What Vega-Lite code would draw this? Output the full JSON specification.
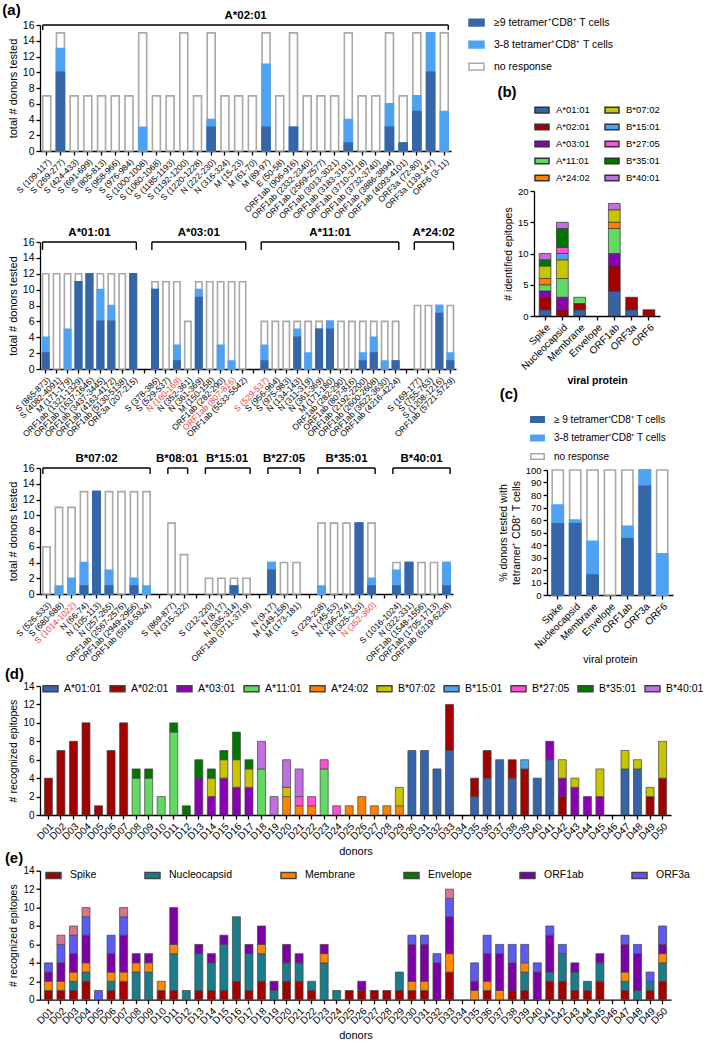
{
  "$schema": "https://vega.github.io/schema/vega-lite/v6.json",
  "padding": {"left": 2, "top": 3, "right": 0, "bottom": 0},
  "background": "white",
  "config": {
    "font": "Liberation Sans",
    "view": {"stroke": null},
    "axis": {"domainColor": "#000", "domainWidth": 1.3, "tickColor": "#000", "tickWidth": 1.3, "tickSize": 4, "labelColor": "#000", "titleColor": "#000", "grid": false, "titleFontWeight": "normal", "labelFontSize": 10, "titleFontSize": 10.5, "labelPadding": 2, "titlePadding": 4, "labelOverlap": false},
    "legend": {"labelColor": "#000", "padding": 0},
    "title": {"fontWeight": "bold", "fontSize": 15, "anchor": "start", "frame": "bounds", "offset": 0, "color": "#000"}
  },
  "datasets": {
    "a1": [
      {"id": "S (109-117)", "total": 7, "any": 0, "strong": 0},
      {"id": "S (269-277)", "total": 15, "any": 13, "strong": 10},
      {"id": "S (424-433)", "total": 7, "any": 0, "strong": 0},
      {"id": "S (691-699)", "total": 7, "any": 0, "strong": 0},
      {"id": "S (805-813)", "total": 7, "any": 0, "strong": 0},
      {"id": "S (958-966)", "total": 7, "any": 0, "strong": 0},
      {"id": "S (976-984)", "total": 7, "any": 0, "strong": 0},
      {"id": "S (1000-1008)", "total": 15, "any": 3, "strong": 0},
      {"id": "S (1060-1068)", "total": 7, "any": 0, "strong": 0},
      {"id": "S (1185-1193)", "total": 7, "any": 0, "strong": 0},
      {"id": "S (1192-1200)", "total": 15, "any": 0, "strong": 0},
      {"id": "S (1220-1228)", "total": 7, "any": 0, "strong": 0},
      {"id": "N (222-230)", "total": 15, "any": 4, "strong": 3},
      {"id": "N (316-324)", "total": 7, "any": 0, "strong": 0},
      {"id": "M (15-23)", "total": 7, "any": 0, "strong": 0},
      {"id": "M (61-70)", "total": 7, "any": 0, "strong": 0},
      {"id": "M (89-97)", "total": 15, "any": 11, "strong": 3},
      {"id": "E (50-58)", "total": 7, "any": 0, "strong": 0},
      {"id": "ORF1ab (906-916)", "total": 15, "any": 3, "strong": 3},
      {"id": "ORF1ab (2332-2340)", "total": 7, "any": 0, "strong": 0},
      {"id": "ORF1ab (2569-2577)", "total": 7, "any": 0, "strong": 0},
      {"id": "ORF1ab (3013-3021)", "total": 7, "any": 0, "strong": 0},
      {"id": "ORF1ab (3183-3191)", "total": 15, "any": 4, "strong": 1},
      {"id": "ORF1ab (3710-3718)", "total": 7, "any": 0, "strong": 0},
      {"id": "ORF1ab (3732-3740)", "total": 7, "any": 0, "strong": 0},
      {"id": "ORF1ab (3886-3894)", "total": 15, "any": 6, "strong": 3},
      {"id": "ORF1ab (4093-4101)", "total": 7, "any": 1, "strong": 1},
      {"id": "ORF3a (72-80)", "total": 15, "any": 7, "strong": 5},
      {"id": "ORF3a (139-147)", "total": 15, "any": 15, "strong": 10},
      {"id": "ORF6 (3-11)", "total": 15, "any": 5, "strong": 0}
    ],
    "a1g": [
      {"g": "A*02:01", "first": "S (109-117)", "last": "ORF6 (3-11)", "mid": "M (15-23)", "n": 30}
    ],
    "a2": [
      {"id": "A*01:01|S (865-873)", "total": 12, "any": 4, "strong": 2},
      {"id": "A*01:01|S (4082-4091)", "total": 12, "any": 0, "strong": 0},
      {"id": "A*01:01|M (171-179)", "total": 12, "any": 5, "strong": 0},
      {"id": "A*01:01|ORF1ab (1321-1329)", "total": 12, "any": 11, "strong": 11},
      {"id": "A*01:01|ORF1ab (1637-1646)", "total": 12, "any": 12, "strong": 12},
      {"id": "A*01:01|ORF1ab (3437-3445)", "total": 12, "any": 10, "strong": 6},
      {"id": "A*01:01|ORF1ab (4163-4172)", "total": 12, "any": 8, "strong": 6},
      {"id": "A*01:01|ORF1ab (5130-5138)", "total": 12, "any": 0, "strong": 0},
      {"id": "A*01:01|ORF3a (207-215)", "total": 12, "any": 12, "strong": 12},
      {"id": "A*03:01|S (378-386)", "total": 11, "any": 10, "strong": 10},
      {"id": "A*03:01|S (529-537)", "total": 11, "any": 0, "strong": 0},
      {"id": "A*03:01|N (160-169)", "total": 11, "any": 3, "strong": 1},
      {"id": "A*03:01|N (352-361)", "total": 6, "any": 0, "strong": 0},
      {"id": "A*03:01|N (361-369)", "total": 11, "any": 10, "strong": 9},
      {"id": "A*03:01|M (150-158)", "total": 11, "any": 0, "strong": 0},
      {"id": "A*03:01|ORF1ab (282-290)", "total": 11, "any": 3, "strong": 0},
      {"id": "A*03:01|ORF1ab (807-816)", "total": 11, "any": 1, "strong": 0},
      {"id": "A*03:01|ORF1ab (5533-5542)", "total": 11, "any": 0, "strong": 0},
      {"id": "A*11:01|S (529-537)", "total": 6, "any": 3, "strong": 1},
      {"id": "A*11:01|S (956-964)", "total": 6, "any": 0, "strong": 0},
      {"id": "A*11:01|S (975-983)", "total": 6, "any": 0, "strong": 0},
      {"id": "A*11:01|N (134-143)", "total": 6, "any": 5, "strong": 4},
      {"id": "A*11:01|N (311-319)", "total": 6, "any": 2, "strong": 0},
      {"id": "A*11:01|N (361-369)", "total": 6, "any": 5, "strong": 5},
      {"id": "A*11:01|M (171-180)", "total": 6, "any": 6, "strong": 5},
      {"id": "A*11:01|ORF1ab (282-290)", "total": 6, "any": 0, "strong": 0},
      {"id": "A*11:01|ORF1ab (807-816)", "total": 6, "any": 0, "strong": 0},
      {"id": "A*11:01|ORF1ab (2192-2200)", "total": 6, "any": 2, "strong": 1},
      {"id": "A*11:01|ORF1ab (2600-2608)", "total": 6, "any": 4, "strong": 2},
      {"id": "A*11:01|ORF1ab (3622-3630)", "total": 6, "any": 1, "strong": 0},
      {"id": "A*11:01|ORF1ab (4216-4224)", "total": 6, "any": 1, "strong": 1},
      {"id": "A*24:02|S (169-177)", "total": 8, "any": 0, "strong": 0},
      {"id": "A*24:02|S (755-763)", "total": 8, "any": 0, "strong": 0},
      {"id": "A*24:02|S (1208-1216)", "total": 8, "any": 8, "strong": 7},
      {"id": "A*24:02|ORF1ab (5721-5729)", "total": 8, "any": 2, "strong": 1}
    ],
    "a2g": [
      {"g": "A*01:01", "first": "A*01:01|S (865-873)", "last": "A*01:01|ORF3a (207-215)", "mid": "A*01:01|ORF1ab (1637-1646)", "n": 9},
      {"g": "A*03:01", "first": "A*03:01|S (378-386)", "last": "A*03:01|ORF1ab (5533-5542)", "mid": "A*03:01|N (361-369)", "n": 9},
      {"g": "A*11:01", "first": "A*11:01|S (529-537)", "last": "A*11:01|ORF1ab (4216-4224)", "mid": "A*11:01|M (171-180)", "n": 13},
      {"g": "A*24:02", "first": "A*24:02|S (169-177)", "last": "A*24:02|ORF1ab (5721-5729)", "mid": "A*24:02|S (755-763)", "n": 4}
    ],
    "a3": [
      {"id": "B*07:02|S (526-533)", "total": 6, "any": 0, "strong": 0},
      {"id": "B*07:02|S (680-688)", "total": 11, "any": 1, "strong": 0},
      {"id": "B*07:02|S (1014-1022)", "total": 11, "any": 2, "strong": 0},
      {"id": "B*07:02|N (66-74)", "total": 13, "any": 4, "strong": 1},
      {"id": "B*07:02|N (105-113)", "total": 13, "any": 13, "strong": 13},
      {"id": "B*07:02|N (257-265)", "total": 13, "any": 3, "strong": 1},
      {"id": "B*07:02|ORF1ab (2567-2576)", "total": 13, "any": 0, "strong": 0},
      {"id": "B*07:02|ORF1ab (2949-2956)", "total": 13, "any": 2, "strong": 1},
      {"id": "B*07:02|ORF1ab (5916-5924)", "total": 13, "any": 1, "strong": 0},
      {"id": "B*08:01|S (869-877)", "total": 9, "any": 0, "strong": 0},
      {"id": "B*08:01|N (315-322)", "total": 5, "any": 0, "strong": 0},
      {"id": "B*15:01|S (212-220)", "total": 2, "any": 0, "strong": 0},
      {"id": "B*15:01|N (8-17)", "total": 2, "any": 0, "strong": 0},
      {"id": "B*15:01|N (305-314)", "total": 2, "any": 1, "strong": 1},
      {"id": "B*15:01|ORF1ab (3711-3719)", "total": 2, "any": 0, "strong": 0},
      {"id": "B*27:05|N (9-17)", "total": 4, "any": 4, "strong": 3},
      {"id": "B*27:05|M (149-158)", "total": 4, "any": 0, "strong": 0},
      {"id": "B*27:05|M (173-181)", "total": 4, "any": 0, "strong": 0},
      {"id": "B*35:01|S (229-238)", "total": 9, "any": 1, "strong": 0},
      {"id": "B*35:01|N (45-53)", "total": 9, "any": 0, "strong": 0},
      {"id": "B*35:01|N (266-274)", "total": 9, "any": 0, "strong": 0},
      {"id": "B*35:01|N (325-333)", "total": 9, "any": 9, "strong": 9},
      {"id": "B*35:01|N (352-360)", "total": 9, "any": 2, "strong": 1},
      {"id": "B*40:01|S (1016-1024)", "total": 4, "any": 3, "strong": 1},
      {"id": "B*40:01|N (322-331)", "total": 4, "any": 4, "strong": 4},
      {"id": "B*40:01|ORF1ab (1548-1556)", "total": 4, "any": 0, "strong": 0},
      {"id": "B*40:01|ORF1ab (1705-1713)", "total": 4, "any": 0, "strong": 0},
      {"id": "B*40:01|ORF1ab (6219-6228)", "total": 4, "any": 4, "strong": 1}
    ],
    "a3g": [
      {"g": "B*07:02", "first": "B*07:02|S (526-533)", "last": "B*07:02|ORF1ab (5916-5924)", "mid": "B*07:02|N (105-113)", "n": 9},
      {"g": "B*08:01", "first": "B*08:01|S (869-877)", "last": "B*08:01|N (315-322)", "mid": "B*08:01|S (869-877)", "n": 2},
      {"g": "B*15:01", "first": "B*15:01|S (212-220)", "last": "B*15:01|ORF1ab (3711-3719)", "mid": "B*15:01|N (8-17)", "n": 4},
      {"g": "B*27:05", "first": "B*27:05|N (9-17)", "last": "B*27:05|M (173-181)", "mid": "B*27:05|M (149-158)", "n": 3},
      {"g": "B*35:01", "first": "B*35:01|S (229-238)", "last": "B*35:01|N (352-360)", "mid": "B*35:01|N (266-274)", "n": 5},
      {"g": "B*40:01", "first": "B*40:01|S (1016-1024)", "last": "B*40:01|ORF1ab (6219-6228)", "mid": "B*40:01|ORF1ab (1548-1556)", "n": 5}
    ],
    "b": [
      {"protein": "Spike", "hla": "A*01:01", "n": 1},
      {"protein": "Spike", "hla": "A*02:01", "n": 2},
      {"protein": "Spike", "hla": "A*03:01", "n": 1},
      {"protein": "Spike", "hla": "A*11:01", "n": 1},
      {"protein": "Spike", "hla": "A*24:02", "n": 1},
      {"protein": "Spike", "hla": "B*07:02", "n": 2},
      {"protein": "Spike", "hla": "B*35:01", "n": 1},
      {"protein": "Spike", "hla": "B*40:01", "n": 1},
      {"protein": "Nucleocapsid", "hla": "A*02:01", "n": 1},
      {"protein": "Nucleocapsid", "hla": "A*03:01", "n": 2},
      {"protein": "Nucleocapsid", "hla": "A*11:01", "n": 3},
      {"protein": "Nucleocapsid", "hla": "B*07:02", "n": 3},
      {"protein": "Nucleocapsid", "hla": "B*15:01", "n": 1},
      {"protein": "Nucleocapsid", "hla": "B*27:05", "n": 1},
      {"protein": "Nucleocapsid", "hla": "B*35:01", "n": 3},
      {"protein": "Nucleocapsid", "hla": "B*40:01", "n": 1},
      {"protein": "Membrane", "hla": "A*01:01", "n": 1},
      {"protein": "Membrane", "hla": "A*02:01", "n": 1},
      {"protein": "Membrane", "hla": "A*11:01", "n": 1},
      {"protein": "ORF1ab", "hla": "A*01:01", "n": 4},
      {"protein": "ORF1ab", "hla": "A*02:01", "n": 4},
      {"protein": "ORF1ab", "hla": "A*03:01", "n": 2},
      {"protein": "ORF1ab", "hla": "A*11:01", "n": 4},
      {"protein": "ORF1ab", "hla": "A*24:02", "n": 1},
      {"protein": "ORF1ab", "hla": "B*07:02", "n": 2},
      {"protein": "ORF1ab", "hla": "B*40:01", "n": 1},
      {"protein": "ORF3a", "hla": "A*01:01", "n": 1},
      {"protein": "ORF3a", "hla": "A*02:01", "n": 2},
      {"protein": "ORF6", "hla": "A*02:01", "n": 1}
    ],
    "c": [
      {"protein": "Spike", "total": 100, "any": 72, "strong": 57},
      {"protein": "Nucleocapsid", "total": 100, "any": 60, "strong": 57},
      {"protein": "Membrane", "total": 100, "any": 43, "strong": 16},
      {"protein": "Envelope", "total": 100, "any": 0, "strong": 0},
      {"protein": "ORF1ab", "total": 100, "any": 55, "strong": 45},
      {"protein": "ORF3a", "total": 100, "any": 100, "strong": 87},
      {"protein": "ORF6", "total": 100, "any": 33, "strong": 0}
    ],
    "d": [
      {"donor": "D01", "hla": "A*02:01", "n": 4},
      {"donor": "D02", "hla": "A*02:01", "n": 7},
      {"donor": "D03", "hla": "A*02:01", "n": 8},
      {"donor": "D04", "hla": "A*02:01", "n": 10},
      {"donor": "D05", "hla": "A*02:01", "n": 1},
      {"donor": "D06", "hla": "A*02:01", "n": 7},
      {"donor": "D07", "hla": "A*02:01", "n": 10},
      {"donor": "D08", "hla": "A*11:01", "n": 4},
      {"donor": "D08", "hla": "B*35:01", "n": 1},
      {"donor": "D09", "hla": "A*11:01", "n": 4},
      {"donor": "D09", "hla": "B*35:01", "n": 1},
      {"donor": "D10", "hla": "A*11:01", "n": 2},
      {"donor": "D11", "hla": "A*11:01", "n": 9},
      {"donor": "D11", "hla": "B*35:01", "n": 1},
      {"donor": "D12", "hla": "B*35:01", "n": 1},
      {"donor": "D13", "hla": "A*03:01", "n": 4},
      {"donor": "D13", "hla": "B*35:01", "n": 2},
      {"donor": "D14", "hla": "A*03:01", "n": 2},
      {"donor": "D14", "hla": "B*07:02", "n": 2},
      {"donor": "D14", "hla": "B*35:01", "n": 1},
      {"donor": "D15", "hla": "A*03:01", "n": 4},
      {"donor": "D15", "hla": "B*07:02", "n": 2},
      {"donor": "D15", "hla": "B*35:01", "n": 1},
      {"donor": "D16", "hla": "A*03:01", "n": 3},
      {"donor": "D16", "hla": "B*07:02", "n": 3},
      {"donor": "D16", "hla": "B*35:01", "n": 3},
      {"donor": "D17", "hla": "A*03:01", "n": 3},
      {"donor": "D17", "hla": "B*07:02", "n": 2},
      {"donor": "D17", "hla": "B*35:01", "n": 1},
      {"donor": "D18", "hla": "A*11:01", "n": 5},
      {"donor": "D18", "hla": "B*40:01", "n": 3},
      {"donor": "D19", "hla": "B*40:01", "n": 2},
      {"donor": "D20", "hla": "A*24:02", "n": 2},
      {"donor": "D20", "hla": "B*07:02", "n": 1},
      {"donor": "D20", "hla": "B*40:01", "n": 3},
      {"donor": "D21", "hla": "A*24:02", "n": 1},
      {"donor": "D21", "hla": "B*27:05", "n": 1},
      {"donor": "D21", "hla": "B*40:01", "n": 3},
      {"donor": "D22", "hla": "A*24:02", "n": 1},
      {"donor": "D22", "hla": "B*27:05", "n": 1},
      {"donor": "D23", "hla": "A*11:01", "n": 5},
      {"donor": "D23", "hla": "B*27:05", "n": 1},
      {"donor": "D24", "hla": "B*27:05", "n": 1},
      {"donor": "D25", "hla": "A*24:02", "n": 1},
      {"donor": "D26", "hla": "A*24:02", "n": 2},
      {"donor": "D27", "hla": "A*24:02", "n": 1},
      {"donor": "D28", "hla": "A*24:02", "n": 1},
      {"donor": "D29", "hla": "A*24:02", "n": 1},
      {"donor": "D29", "hla": "B*07:02", "n": 2},
      {"donor": "D30", "hla": "A*01:01", "n": 7},
      {"donor": "D31", "hla": "A*01:01", "n": 7},
      {"donor": "D32", "hla": "A*01:01", "n": 5},
      {"donor": "D33", "hla": "A*01:01", "n": 7},
      {"donor": "D33", "hla": "A*02:01", "n": 5},
      {"donor": "D35", "hla": "A*01:01", "n": 2},
      {"donor": "D35", "hla": "A*02:01", "n": 2},
      {"donor": "D36", "hla": "A*01:01", "n": 4},
      {"donor": "D36", "hla": "A*02:01", "n": 3},
      {"donor": "D37", "hla": "A*01:01", "n": 6},
      {"donor": "D38", "hla": "A*01:01", "n": 4},
      {"donor": "D38", "hla": "A*02:01", "n": 2},
      {"donor": "D39", "hla": "A*02:01", "n": 5},
      {"donor": "D39", "hla": "B*15:01", "n": 1},
      {"donor": "D40", "hla": "A*01:01", "n": 4},
      {"donor": "D41", "hla": "A*01:01", "n": 6},
      {"donor": "D41", "hla": "A*03:01", "n": 2},
      {"donor": "D42", "hla": "A*02:01", "n": 2},
      {"donor": "D42", "hla": "A*03:01", "n": 2},
      {"donor": "D42", "hla": "B*07:02", "n": 2},
      {"donor": "D43", "hla": "A*03:01", "n": 3},
      {"donor": "D43", "hla": "B*07:02", "n": 1},
      {"donor": "D44", "hla": "A*03:01", "n": 2},
      {"donor": "D45", "hla": "A*03:01", "n": 2},
      {"donor": "D45", "hla": "B*07:02", "n": 3},
      {"donor": "D47", "hla": "A*01:01", "n": 5},
      {"donor": "D47", "hla": "B*07:02", "n": 2},
      {"donor": "D48", "hla": "A*01:01", "n": 5},
      {"donor": "D48", "hla": "B*07:02", "n": 1},
      {"donor": "D49", "hla": "A*02:01", "n": 2},
      {"donor": "D49", "hla": "B*07:02", "n": 1},
      {"donor": "D50", "hla": "A*02:01", "n": 4},
      {"donor": "D50", "hla": "B*07:02", "n": 4}
    ],
    "e": [
      {"donor": "D01", "protein": "Spike", "k": 1, "n": 1},
      {"donor": "D01", "protein": "Membrane", "k": 3, "n": 1},
      {"donor": "D01", "protein": "ORF1ab", "k": 5, "n": 1},
      {"donor": "D01", "protein": "ORF3a", "k": 6, "n": 1},
      {"donor": "D02", "protein": "Spike", "k": 1, "n": 1},
      {"donor": "D02", "protein": "Membrane", "k": 3, "n": 1},
      {"donor": "D02", "protein": "ORF1ab", "k": 5, "n": 2},
      {"donor": "D02", "protein": "ORF3a", "k": 6, "n": 2},
      {"donor": "D02", "protein": "ORF6", "k": 7, "n": 1},
      {"donor": "D03", "protein": "Spike", "k": 1, "n": 1},
      {"donor": "D03", "protein": "Nucleocapsid", "k": 2, "n": 1},
      {"donor": "D03", "protein": "Membrane", "k": 3, "n": 1},
      {"donor": "D03", "protein": "ORF1ab", "k": 5, "n": 2},
      {"donor": "D03", "protein": "ORF3a", "k": 6, "n": 2},
      {"donor": "D03", "protein": "ORF6", "k": 7, "n": 1},
      {"donor": "D04", "protein": "Spike", "k": 1, "n": 2},
      {"donor": "D04", "protein": "Nucleocapsid", "k": 2, "n": 1},
      {"donor": "D04", "protein": "Membrane", "k": 3, "n": 1},
      {"donor": "D04", "protein": "ORF1ab", "k": 5, "n": 3},
      {"donor": "D04", "protein": "ORF3a", "k": 6, "n": 2},
      {"donor": "D04", "protein": "ORF6", "k": 7, "n": 1},
      {"donor": "D05", "protein": "ORF3a", "k": 6, "n": 1},
      {"donor": "D06", "protein": "Spike", "k": 1, "n": 1},
      {"donor": "D06", "protein": "Nucleocapsid", "k": 2, "n": 1},
      {"donor": "D06", "protein": "Membrane", "k": 3, "n": 1},
      {"donor": "D06", "protein": "ORF1ab", "k": 5, "n": 2},
      {"donor": "D06", "protein": "ORF3a", "k": 6, "n": 2},
      {"donor": "D07", "protein": "Spike", "k": 1, "n": 2},
      {"donor": "D07", "protein": "Membrane", "k": 3, "n": 1},
      {"donor": "D07", "protein": "ORF1ab", "k": 5, "n": 4},
      {"donor": "D07", "protein": "ORF3a", "k": 6, "n": 2},
      {"donor": "D07", "protein": "ORF6", "k": 7, "n": 1},
      {"donor": "D08", "protein": "Nucleocapsid", "k": 2, "n": 3},
      {"donor": "D08", "protein": "Membrane", "k": 3, "n": 1},
      {"donor": "D08", "protein": "ORF1ab", "k": 5, "n": 1},
      {"donor": "D09", "protein": "Nucleocapsid", "k": 2, "n": 3},
      {"donor": "D09", "protein": "Membrane", "k": 3, "n": 1},
      {"donor": "D09", "protein": "ORF1ab", "k": 5, "n": 1},
      {"donor": "D10", "protein": "Spike", "k": 1, "n": 1},
      {"donor": "D10", "protein": "Membrane", "k": 3, "n": 1},
      {"donor": "D11", "protein": "Spike", "k": 1, "n": 1},
      {"donor": "D11", "protein": "Nucleocapsid", "k": 2, "n": 4},
      {"donor": "D11", "protein": "Membrane", "k": 3, "n": 1},
      {"donor": "D11", "protein": "ORF1ab", "k": 5, "n": 4},
      {"donor": "D12", "protein": "Nucleocapsid", "k": 2, "n": 1},
      {"donor": "D13", "protein": "Spike", "k": 1, "n": 1},
      {"donor": "D13", "protein": "Nucleocapsid", "k": 2, "n": 4},
      {"donor": "D13", "protein": "ORF1ab", "k": 5, "n": 1},
      {"donor": "D14", "protein": "Spike", "k": 1, "n": 1},
      {"donor": "D14", "protein": "Nucleocapsid", "k": 2, "n": 3},
      {"donor": "D14", "protein": "ORF1ab", "k": 5, "n": 1},
      {"donor": "D15", "protein": "Spike", "k": 1, "n": 1},
      {"donor": "D15", "protein": "Nucleocapsid", "k": 2, "n": 5},
      {"donor": "D15", "protein": "ORF1ab", "k": 5, "n": 1},
      {"donor": "D16", "protein": "Spike", "k": 1, "n": 2},
      {"donor": "D16", "protein": "Nucleocapsid", "k": 2, "n": 7},
      {"donor": "D17", "protein": "Spike", "k": 1, "n": 1},
      {"donor": "D17", "protein": "Nucleocapsid", "k": 2, "n": 4},
      {"donor": "D17", "protein": "ORF1ab", "k": 5, "n": 1},
      {"donor": "D18", "protein": "Spike", "k": 1, "n": 2},
      {"donor": "D18", "protein": "Nucleocapsid", "k": 2, "n": 3},
      {"donor": "D18", "protein": "Membrane", "k": 3, "n": 1},
      {"donor": "D18", "protein": "ORF1ab", "k": 5, "n": 2},
      {"donor": "D19", "protein": "Nucleocapsid", "k": 2, "n": 1},
      {"donor": "D19", "protein": "ORF1ab", "k": 5, "n": 1},
      {"donor": "D20", "protein": "Spike", "k": 1, "n": 2},
      {"donor": "D20", "protein": "Nucleocapsid", "k": 2, "n": 2},
      {"donor": "D20", "protein": "ORF1ab", "k": 5, "n": 2},
      {"donor": "D21", "protein": "Spike", "k": 1, "n": 2},
      {"donor": "D21", "protein": "Nucleocapsid", "k": 2, "n": 2},
      {"donor": "D21", "protein": "ORF1ab", "k": 5, "n": 1},
      {"donor": "D22", "protein": "Spike", "k": 1, "n": 1},
      {"donor": "D22", "protein": "Nucleocapsid", "k": 2, "n": 1},
      {"donor": "D23", "protein": "Nucleocapsid", "k": 2, "n": 4},
      {"donor": "D23", "protein": "Membrane", "k": 3, "n": 1},
      {"donor": "D23", "protein": "ORF1ab", "k": 5, "n": 1},
      {"donor": "D24", "protein": "Nucleocapsid", "k": 2, "n": 1},
      {"donor": "D25", "protein": "Spike", "k": 1, "n": 1},
      {"donor": "D26", "protein": "Spike", "k": 1, "n": 1},
      {"donor": "D26", "protein": "ORF1ab", "k": 5, "n": 1},
      {"donor": "D27", "protein": "Spike", "k": 1, "n": 1},
      {"donor": "D28", "protein": "Spike", "k": 1, "n": 1},
      {"donor": "D29", "protein": "Spike", "k": 1, "n": 1},
      {"donor": "D29", "protein": "Nucleocapsid", "k": 2, "n": 2},
      {"donor": "D30", "protein": "Spike", "k": 1, "n": 1},
      {"donor": "D30", "protein": "Membrane", "k": 3, "n": 1},
      {"donor": "D30", "protein": "ORF1ab", "k": 5, "n": 4},
      {"donor": "D30", "protein": "ORF3a", "k": 6, "n": 1},
      {"donor": "D31", "protein": "Spike", "k": 1, "n": 1},
      {"donor": "D31", "protein": "Membrane", "k": 3, "n": 1},
      {"donor": "D31", "protein": "ORF1ab", "k": 5, "n": 4},
      {"donor": "D31", "protein": "ORF3a", "k": 6, "n": 1},
      {"donor": "D32", "protein": "ORF1ab", "k": 5, "n": 4},
      {"donor": "D32", "protein": "ORF3a", "k": 6, "n": 1},
      {"donor": "D33", "protein": "Spike", "k": 1, "n": 3},
      {"donor": "D33", "protein": "Membrane", "k": 3, "n": 2},
      {"donor": "D33", "protein": "ORF1ab", "k": 5, "n": 4},
      {"donor": "D33", "protein": "ORF3a", "k": 6, "n": 2},
      {"donor": "D33", "protein": "ORF6", "k": 7, "n": 1},
      {"donor": "D35", "protein": "Membrane", "k": 3, "n": 1},
      {"donor": "D35", "protein": "ORF1ab", "k": 5, "n": 1},
      {"donor": "D35", "protein": "ORF3a", "k": 6, "n": 2},
      {"donor": "D36", "protein": "Spike", "k": 1, "n": 1},
      {"donor": "D36", "protein": "Membrane", "k": 3, "n": 1},
      {"donor": "D36", "protein": "ORF1ab", "k": 5, "n": 3},
      {"donor": "D36", "protein": "ORF3a", "k": 6, "n": 2},
      {"donor": "D37", "protein": "Membrane", "k": 3, "n": 1},
      {"donor": "D37", "protein": "ORF1ab", "k": 5, "n": 4},
      {"donor": "D37", "protein": "ORF3a", "k": 6, "n": 1},
      {"donor": "D38", "protein": "Spike", "k": 1, "n": 1},
      {"donor": "D38", "protein": "ORF1ab", "k": 5, "n": 3},
      {"donor": "D38", "protein": "ORF3a", "k": 6, "n": 2},
      {"donor": "D39", "protein": "Spike", "k": 1, "n": 1},
      {"donor": "D39", "protein": "Nucleocapsid", "k": 2, "n": 2},
      {"donor": "D39", "protein": "Membrane", "k": 3, "n": 1},
      {"donor": "D39", "protein": "ORF3a", "k": 6, "n": 2},
      {"donor": "D40", "protein": "ORF1ab", "k": 5, "n": 3},
      {"donor": "D40", "protein": "ORF3a", "k": 6, "n": 1},
      {"donor": "D41", "protein": "Spike", "k": 1, "n": 2},
      {"donor": "D41", "protein": "Nucleocapsid", "k": 2, "n": 1},
      {"donor": "D41", "protein": "ORF1ab", "k": 5, "n": 4},
      {"donor": "D41", "protein": "ORF3a", "k": 6, "n": 1},
      {"donor": "D42", "protein": "Spike", "k": 1, "n": 2},
      {"donor": "D42", "protein": "Nucleocapsid", "k": 2, "n": 3},
      {"donor": "D42", "protein": "ORF3a", "k": 6, "n": 1},
      {"donor": "D43", "protein": "Spike", "k": 1, "n": 1},
      {"donor": "D43", "protein": "Nucleocapsid", "k": 2, "n": 2},
      {"donor": "D43", "protein": "ORF1ab", "k": 5, "n": 1},
      {"donor": "D44", "protein": "Spike", "k": 1, "n": 1},
      {"donor": "D44", "protein": "Nucleocapsid", "k": 2, "n": 1},
      {"donor": "D45", "protein": "Spike", "k": 1, "n": 2},
      {"donor": "D45", "protein": "Nucleocapsid", "k": 2, "n": 2},
      {"donor": "D45", "protein": "ORF1ab", "k": 5, "n": 1},
      {"donor": "D47", "protein": "Spike", "k": 1, "n": 1},
      {"donor": "D47", "protein": "Nucleocapsid", "k": 2, "n": 1},
      {"donor": "D47", "protein": "Membrane", "k": 3, "n": 1},
      {"donor": "D47", "protein": "ORF1ab", "k": 5, "n": 3},
      {"donor": "D47", "protein": "ORF3a", "k": 6, "n": 1},
      {"donor": "D48", "protein": "Nucleocapsid", "k": 2, "n": 1},
      {"donor": "D48", "protein": "ORF1ab", "k": 5, "n": 4},
      {"donor": "D48", "protein": "ORF3a", "k": 6, "n": 1},
      {"donor": "D49", "protein": "Spike", "k": 1, "n": 1},
      {"donor": "D49", "protein": "Nucleocapsid", "k": 2, "n": 1},
      {"donor": "D49", "protein": "ORF3a", "k": 6, "n": 1},
      {"donor": "D50", "protein": "Spike", "k": 1, "n": 2},
      {"donor": "D50", "protein": "Nucleocapsid", "k": 2, "n": 2},
      {"donor": "D50", "protein": "Membrane", "k": 3, "n": 1},
      {"donor": "D50", "protein": "ORF1ab", "k": 5, "n": 1},
      {"donor": "D50", "protein": "ORF3a", "k": 6, "n": 2}
    ]
  },
  "vconcat": [
    {
      "hconcat": [
        {
          "vconcat": [
            {
              "width": 411, "height": 126,
              "title": {"text": "(a)", "dx": -5, "dy": 12},
              "layer": [
                {
                  "data": {"name": "a1"},
                  "transform": [{"fold": ["total", "any", "strong"], "as": ["key", "value"]}, {"filter": "datum.value > 0"}],
                  "mark": {"type": "bar", "strokeWidth": 1.6},
                  "encoding": {
                    "x": {"field": "id", "type": "nominal", "title": null,
                      "scale": {"domain": ["S (109-117)", "S (269-277)", "S (424-433)", "S (691-699)", "S (805-813)", "S (958-966)", "S (976-984)", "S (1000-1008)", "S (1060-1068)", "S (1185-1193)", "S (1192-1200)", "S (1220-1228)", "N (222-230)", "N (316-324)", "M (15-23)", "M (61-70)", "M (89-97)", "E (50-58)", "ORF1ab (906-916)", "ORF1ab (2332-2340)", "ORF1ab (2569-2577)", "ORF1ab (3013-3021)", "ORF1ab (3183-3191)", "ORF1ab (3710-3718)", "ORF1ab (3732-3740)", "ORF1ab (3886-3894)", "ORF1ab (4093-4101)", "ORF3a (72-80)", "ORF3a (139-147)", "ORF6 (3-11)"], "paddingInner": 0.42, "paddingOuter": 0.2},
                      "axis": {"labelAngle": -45, "labelFontSize": 8.5, "labelOverlap": false}},
                    "y": {"field": "value", "type": "quantitative", "stack": null, "scale": {"domain": [0, 16]}, "title": "total # donors tested",
                      "axis": {"values": [0, 2, 4, 6, 8, 10, 12, 14, 16], "tickCount": 50, "format": "d", "labelFontSize": 10.5, "titleFontSize": 11, "labelOverlap": false}},
                    "fill": {"field": "key", "type": "nominal",
                      "scale": {"domain": ["strong", "any", "total"], "range": ["#3665a8", "#4fa2f2", "#ffffff"]},
                      "legend": {"orient": "none", "legendX": 428, "legendY": -11, "title": null,
                        "labelExpr": "datum.value == 'strong' ? '≥9 tetramer⁺CD8⁺ T cells' : datum.value == 'any' ? '3-8 tetramer⁺CD8⁺ T cells' : 'no response'",
                        "labelFontSize": 10.5, "symbolType": "M-1,-0.45L1,-0.45L1,0.45L-1,0.45Z", "symbolSize": 225, "rowPadding": 7, "labelOffset": 9,
                        "encode": {"symbols": {"update": {"stroke": {"signal": "datum.value == 'total' ? '#a8a8a8' : 'transparent'"}, "strokeWidth": {"value": 1.5}}}}}},
                    "stroke": {"field": "key", "type": "nominal",
                      "scale": {"domain": ["strong", "any", "total"], "range": ["#3665a8", "#4fa2f2", "#a8a8a8"]}, "legend": null}
                  }
                },
                {
                  "data": {"name": "a1g"},
                  "mark": {"type": "rule", "strokeWidth": 1.4, "color": "#000"},
                  "encoding": {"x": {"field": "first", "type": "nominal", "bandPosition": 0, "title": null}, "x2": {"field": "last", "bandPosition": 1}, "y": {"datum": 16}}
                },
                {
                  "data": {"name": "a1g"},
                  "mark": {"type": "rule", "strokeWidth": 1.4, "color": "#000"},
                  "encoding": {"x": {"field": "first", "type": "nominal", "bandPosition": 0, "title": null}, "y": {"datum": 16}, "y2": {"datum": 15.35}}
                },
                {
                  "data": {"name": "a1g"},
                  "mark": {"type": "rule", "strokeWidth": 1.4, "color": "#000"},
                  "encoding": {"x": {"field": "last", "type": "nominal", "bandPosition": 1, "title": null}, "y": {"datum": 16}, "y2": {"datum": 15.35}}
                },
                {
                  "data": {"name": "a1g"},
                  "mark": {"type": "text", "fontWeight": "bold", "fontSize": 11.5, "baseline": "bottom", "dy": -4, "dx": 3, "color": "#000"},
                  "encoding": {"x": {"field": "mid", "type": "nominal", "bandPosition": 1, "title": null}, "y": {"datum": 16}, "text": {"field": "g"}}
                }
              ]
            },
            {
              "vconcat": [
                {
                  "width": 416, "height": 127,
                  "layer": [
                    {
                      "data": {"name": "a2"},
                      "transform": [{"fold": ["total", "any", "strong"], "as": ["key", "value"]}, {"filter": "datum.value > 0"}],
                      "mark": {"type": "bar", "strokeWidth": 1.6},
                      "encoding": {
                        "x": {"field": "id", "type": "nominal", "title": null,
                          "scale": {"domain": ["A*01:01|S (865-873)", "A*01:01|S (4082-4091)", "A*01:01|M (171-179)", "A*01:01|ORF1ab (1321-1329)", "A*01:01|ORF1ab (1637-1646)", "A*01:01|ORF1ab (3437-3445)", "A*01:01|ORF1ab (4163-4172)", "A*01:01|ORF1ab (5130-5138)", "A*01:01|ORF3a (207-215)", "gap1|", "A*03:01|S (378-386)", "A*03:01|S (529-537)", "A*03:01|N (160-169)", "A*03:01|N (352-361)", "A*03:01|N (361-369)", "A*03:01|M (150-158)", "A*03:01|ORF1ab (282-290)", "A*03:01|ORF1ab (807-816)", "A*03:01|ORF1ab (5533-5542)", "gap2|", "A*11:01|S (529-537)", "A*11:01|S (956-964)", "A*11:01|S (975-983)", "A*11:01|N (134-143)", "A*11:01|N (311-319)", "A*11:01|N (361-369)", "A*11:01|M (171-180)", "A*11:01|ORF1ab (282-290)", "A*11:01|ORF1ab (807-816)", "A*11:01|ORF1ab (2192-2200)", "A*11:01|ORF1ab (2600-2608)", "A*11:01|ORF1ab (3622-3630)", "A*11:01|ORF1ab (4216-4224)", "gap3|", "A*24:02|S (169-177)", "A*24:02|S (755-763)", "A*24:02|S (1208-1216)", "A*24:02|ORF1ab (5721-5729)"], "paddingInner": 0.42, "paddingOuter": 0.23},
                          "axis": {"labelAngle": -45, "labelFontSize": 8.5, "labelOverlap": false, "labelExpr": "split(datum.label, '|')[1]",
                            "labelColor": {"condition": {"test": "indexof(['A*03:01|N (160-169)', 'A*03:01|ORF1ab (807-816)', 'A*11:01|S (529-537)'], datum.value) >= 0", "value": "#f03c3c"}, "value": "#000"}}},
                        "y": {"field": "value", "type": "quantitative", "stack": null, "scale": {"domain": [0, 16]}, "title": "total # donors tested",
                          "axis": {"values": [0, 2, 4, 6, 8, 10, 12, 14, 16], "tickCount": 50, "format": "d", "labelFontSize": 10.5, "titleFontSize": 11, "labelOverlap": false}},
                        "fill": {"field": "key", "type": "nominal", "scale": {"domain": ["strong", "any", "total"], "range": ["#3665a8", "#4fa2f2", "#ffffff"]}, "legend": null},
                        "stroke": {"field": "key", "type": "nominal", "scale": {"domain": ["strong", "any", "total"], "range": ["#3665a8", "#4fa2f2", "#a8a8a8"]}, "legend": null}
                      }
                    },
                    {
                      "data": {"name": "a2g"},
                      "mark": {"type": "rule", "strokeWidth": 1.4, "color": "#000"},
                      "encoding": {"x": {"field": "first", "type": "nominal", "bandPosition": 0, "title": null}, "x2": {"field": "last", "bandPosition": 1}, "y": {"datum": 16}}
                    },
                    {
                      "data": {"name": "a2g"},
                      "mark": {"type": "rule", "strokeWidth": 1.4, "color": "#000"},
                      "encoding": {"x": {"field": "first", "type": "nominal", "bandPosition": 0, "title": null}, "y": {"datum": 16}, "y2": {"datum": 15}}
                    },
                    {
                      "data": {"name": "a2g"},
                      "mark": {"type": "rule", "strokeWidth": 1.4, "color": "#000"},
                      "encoding": {"x": {"field": "last", "type": "nominal", "bandPosition": 1, "title": null}, "y": {"datum": 16}, "y2": {"datum": 15}}
                    },
                    {
                      "data": {"name": "a2g"},
                      "transform": [{"filter": "datum.n % 2 == 1"}],
                      "mark": {"type": "text", "fontWeight": "bold", "fontSize": 11.5, "baseline": "bottom", "dy": -4, "color": "#000"},
                      "encoding": {"x": {"field": "mid", "type": "nominal", "bandPosition": 0.5, "title": null}, "y": {"datum": 16}, "text": {"field": "g"}}
                    },
                    {
                      "data": {"name": "a2g"},
                      "transform": [{"filter": "datum.n % 2 == 0"}],
                      "mark": {"type": "text", "fontWeight": "bold", "fontSize": 11.5, "baseline": "bottom", "dy": -4, "dx": 2, "color": "#000"},
                      "encoding": {"x": {"field": "mid", "type": "nominal", "bandPosition": 1, "title": null}, "y": {"datum": 16}, "text": {"field": "g"}}
                    }
                  ]
                },
                {
                  "width": 413, "height": 126,
                  "layer": [
                    {
                      "data": {"name": "a3"},
                      "transform": [{"fold": ["total", "any", "strong"], "as": ["key", "value"]}, {"filter": "datum.value > 0"}],
                      "mark": {"type": "bar", "strokeWidth": 1.6},
                      "encoding": {
                        "x": {"field": "id", "type": "nominal", "title": null,
                          "scale": {"domain": ["B*07:02|S (526-533)", "B*07:02|S (680-688)", "B*07:02|S (1014-1022)", "B*07:02|N (66-74)", "B*07:02|N (105-113)", "B*07:02|N (257-265)", "B*07:02|ORF1ab (2567-2576)", "B*07:02|ORF1ab (2949-2956)", "B*07:02|ORF1ab (5916-5924)", "gap1|", "B*08:01|S (869-877)", "B*08:01|N (315-322)", "gap2|", "B*15:01|S (212-220)", "B*15:01|N (8-17)", "B*15:01|N (305-314)", "B*15:01|ORF1ab (3711-3719)", "gap3|", "B*27:05|N (9-17)", "B*27:05|M (149-158)", "B*27:05|M (173-181)", "gap4|", "B*35:01|S (229-238)", "B*35:01|N (45-53)", "B*35:01|N (266-274)", "B*35:01|N (325-333)", "B*35:01|N (352-360)", "gap5|", "B*40:01|S (1016-1024)", "B*40:01|N (322-331)", "B*40:01|ORF1ab (1548-1556)", "B*40:01|ORF1ab (1705-1713)", "B*40:01|ORF1ab (6219-6228)"], "paddingInner": 0.42, "paddingOuter": 0.23},
                          "axis": {"labelAngle": -45, "labelFontSize": 8.5, "labelOverlap": false, "labelExpr": "split(datum.label, '|')[1]",
                            "labelColor": {"condition": {"test": "indexof(['B*07:02|S (1014-1022)', 'B*35:01|N (352-360)'], datum.value) >= 0", "value": "#f03c3c"}, "value": "#000"}}},
                        "y": {"field": "value", "type": "quantitative", "stack": null, "scale": {"domain": [0, 16]}, "title": "total # donors tested",
                          "axis": {"values": [0, 2, 4, 6, 8, 10, 12, 14, 16], "tickCount": 50, "format": "d", "labelFontSize": 10.5, "titleFontSize": 11, "labelOverlap": false}},
                        "fill": {"field": "key", "type": "nominal", "scale": {"domain": ["strong", "any", "total"], "range": ["#3665a8", "#4fa2f2", "#ffffff"]}, "legend": null},
                        "stroke": {"field": "key", "type": "nominal", "scale": {"domain": ["strong", "any", "total"], "range": ["#3665a8", "#4fa2f2", "#a8a8a8"]}, "legend": null}
                      }
                    },
                    {
                      "data": {"name": "a3g"},
                      "mark": {"type": "rule", "strokeWidth": 1.4, "color": "#000"},
                      "encoding": {"x": {"field": "first", "type": "nominal", "bandPosition": 0, "title": null}, "x2": {"field": "last", "bandPosition": 1}, "y": {"datum": 16}}
                    },
                    {
                      "data": {"name": "a3g"},
                      "mark": {"type": "rule", "strokeWidth": 1.4, "color": "#000"},
                      "encoding": {"x": {"field": "first", "type": "nominal", "bandPosition": 0, "title": null}, "y": {"datum": 16}, "y2": {"datum": 15.25}}
                    },
                    {
                      "data": {"name": "a3g"},
                      "mark": {"type": "rule", "strokeWidth": 1.4, "color": "#000"},
                      "encoding": {"x": {"field": "last", "type": "nominal", "bandPosition": 1, "title": null}, "y": {"datum": 16}, "y2": {"datum": 15.25}}
                    },
                    {
                      "data": {"name": "a3g"},
                      "transform": [{"filter": "datum.n % 2 == 1"}],
                      "mark": {"type": "text", "fontWeight": "bold", "fontSize": 11.5, "baseline": "bottom", "dy": -4, "color": "#000"},
                      "encoding": {"x": {"field": "mid", "type": "nominal", "bandPosition": 0.5, "title": null}, "y": {"datum": 16}, "text": {"field": "g"}}
                    },
                    {
                      "data": {"name": "a3g"},
                      "transform": [{"filter": "datum.n % 2 == 0"}],
                      "mark": {"type": "text", "fontWeight": "bold", "fontSize": 11.5, "baseline": "bottom", "dy": -4, "dx": 2, "color": "#000"},
                      "encoding": {"x": {"field": "mid", "type": "nominal", "bandPosition": 1, "title": null}, "y": {"datum": 16}, "text": {"field": "g"}}
                    }
                  ]
                }
              ],
              "spacing": 99, "bounds": "flush",
              "resolve": {"scale": {"fill": "independent", "color": "independent", "stroke": "independent"}}
            }
          ],
          "spacing": 91, "bounds": "flush",
          "resolve": {"scale": {"fill": "independent", "color": "independent", "stroke": "independent"}}
        },
        {
          "vconcat": [
            {"width": 1, "height": 12, "data": {"values": [{"s": 1}]}, "mark": {"type": "text", "text": ""}, "encoding": {}},
            {
              "width": 126, "height": 125,
              "title": {"text": "(b)", "dx": -6, "dy": 2},
              "data": {"name": "b"},
              "mark": {"type": "bar", "stroke": "#333", "strokeWidth": 0.7},
              "encoding": {
                "x": {"field": "protein", "type": "nominal", "title": "viral protein",
                  "scale": {"domain": ["Spike", "Nucleocapsid", "Membrane", "Envelope", "ORF1ab", "ORF3a", "ORF6"], "paddingInner": 0.32, "paddingOuter": 0.3},
                  "axis": {"labelAngle": -45, "labelFontSize": 10, "titleFontWeight": "bold", "titleFontSize": 10.5, "labelOverlap": false}},
                "y": {"field": "n", "type": "quantitative", "stack": "zero", "scale": {"domain": [0, 20]}, "title": "# identified epitopes",
                  "axis": {"values": [0, 5, 10, 15, 20], "tickCount": 50, "format": "d", "labelFontSize": 9.5, "titleFontSize": 10.5, "labelOverlap": false}},
                "color": {"field": "hla", "type": "nominal",
                  "scale": {"domain": ["A*01:01", "A*02:01", "A*03:01", "A*11:01", "A*24:02", "B*07:02", "B*15:01", "B*27:05", "B*35:01", "B*40:01"], "range": ["#3763a8", "#a30000", "#8a00b5", "#62d962", "#ff8000", "#c8c400", "#4aa3f5", "#ff4dd8", "#007800", "#c06ee0"]},
                  "legend": {"orient": "none", "legendX": 0, "legendY": -89, "title": null, "columns": 2, "gridAlign": "all",
                    "labelFontSize": 9.5, "symbolType": "M-1,-0.4L1,-0.4L1,0.4L-1,0.4Z", "symbolSize": 196, "rowPadding": 3, "columnPadding": 12, "labelOffset": 6,
                    "encode": {"symbols": {"update": {"stroke": {"value": "#333"}, "strokeWidth": {"value": 0.8}}}}}},
                "order": {"field": "hla", "sort": "ascending"}
              }
            },
            {
              "hconcat": [
                {"width": 1, "height": 1, "data": {"values": [{"s": 1}]}, "mark": {"type": "text", "text": ""}, "encoding": {}},
                {
                  "width": 126, "height": 125,
                  "title": {"text": "(c)", "dx": 1, "dy": -6},
                  "data": {"name": "c"},
                  "transform": [{"fold": ["total", "any", "strong"], "as": ["key", "value"]}, {"filter": "datum.value > 0"}],
                  "mark": {"type": "bar", "strokeWidth": 1.6},
                  "encoding": {
                    "x": {"field": "protein", "type": "nominal", "title": "viral protein",
                      "scale": {"domain": ["Spike", "Nucleocapsid", "Membrane", "Envelope", "ORF1ab", "ORF3a", "ORF6"], "paddingInner": 0.36, "paddingOuter": 0.3},
                      "axis": {"labelAngle": -45, "labelFontSize": 10, "titleFontSize": 10.5, "labelOverlap": false}},
                    "y": {"field": "value", "type": "quantitative", "stack": null, "scale": {"domain": [0, 100]}, "title": ["% donors tested with", "tetramer⁺ CD8⁺ T cells"],
                      "axis": {"values": [0, 10, 20, 30, 40, 50, 60, 70, 80, 90, 100], "tickCount": 50, "format": "d", "labelFontSize": 9.5, "titleFontSize": 10.5, "labelOverlap": false}},
                    "fill": {"field": "key", "type": "nominal",
                      "scale": {"domain": ["strong", "any", "total"], "range": ["#3665a8", "#4fa2f2", "#ffffff"]},
                      "legend": {"orient": "none", "legendX": -17, "legendY": -58, "title": null,
                        "labelExpr": "datum.value == 'strong' ? '≥ 9 tetramer⁺CD8⁺ T cells' : datum.value == 'any' ? '3-8 tetramer⁺CD8⁺ T cells' : 'no response'",
                        "labelFontSize": 10, "symbolType": "M-1,-0.4L1,-0.4L1,0.4L-1,0.4Z", "symbolSize": 180, "rowPadding": 4.5, "labelOffset": 9,
                        "encode": {"symbols": {"update": {"stroke": {"signal": "datum.value == 'total' ? '#a8a8a8' : 'transparent'"}, "strokeWidth": {"value": 1.5}}}}}},
                    "stroke": {"field": "key", "type": "nominal", "scale": {"domain": ["strong", "any", "total"], "range": ["#3665a8", "#4fa2f2", "#a8a8a8"]}, "legend": null}
                  }
                }
              ],
              "spacing": 12, "bounds": "flush",
              "resolve": {"scale": {"fill": "independent", "color": "independent", "stroke": "independent"}}
            }
          ],
          "spacing": 154, "bounds": "flush",
          "resolve": {"scale": {"fill": "independent", "color": "independent", "stroke": "independent"}}
        }
      ],
      "spacing": 494, "bounds": "flush",
      "resolve": {"scale": {"fill": "independent", "color": "independent", "stroke": "independent"}}
    },
    {
      "vconcat": [
        {
          "width": 631, "height": 129,
          "title": {"text": "(d)", "dx": -4, "dy": 6},
          "data": {"name": "d"},
          "mark": {"type": "bar", "stroke": "#444", "strokeWidth": 0.7},
          "encoding": {
            "x": {"field": "donor", "type": "nominal", "title": "donors",
              "scale": {"domain": ["D01", "D02", "D03", "D04", "D05", "D06", "D07", "D08", "D09", "D10", "D11", "D12", "D13", "D14", "D15", "D16", "D17", "D18", "D19", "D20", "D21", "D22", "D23", "D24", "D25", "D26", "D27", "D28", "D29", "D30", "D31", "D32", "D33", "D34", "D35", "D36", "D37", "D38", "D39", "D40", "D41", "D42", "D43", "D44", "D45", "D46", "D47", "D48", "D49", "D50"], "paddingInner": 0.36, "paddingOuter": 0.35},
              "axis": {"labelAngle": -45, "labelFontSize": 10, "titleFontSize": 11, "labelOverlap": false}},
            "y": {"field": "n", "type": "quantitative", "stack": "zero", "scale": {"domain": [0, 14]}, "title": "# recognized epitopes",
              "axis": {"values": [0, 2, 4, 6, 8, 10, 12, 14], "tickCount": 50, "format": "d", "labelFontSize": 10, "titleFontSize": 10.5, "labelOverlap": false}},
            "color": {"field": "hla", "type": "nominal",
              "scale": {"domain": ["A*01:01", "A*02:01", "A*03:01", "A*11:01", "A*24:02", "B*07:02", "B*15:01", "B*27:05", "B*35:01", "B*40:01"], "range": ["#3763a8", "#a30000", "#8a00b5", "#62d962", "#ff8000", "#c8c400", "#4aa3f5", "#ff4dd8", "#007800", "#c06ee0"]},
              "legend": {"orient": "none", "legendX": 2, "legendY": -6, "title": null, "direction": "horizontal", "columns": 10,
                "labelFontSize": 10.5, "symbolType": "M-1,-0.4L1,-0.4L1,0.4L-1,0.4Z", "symbolSize": 225, "columnPadding": 5, "labelOffset": 5,
                "encode": {"symbols": {"update": {"stroke": {"value": "#333"}, "strokeWidth": {"value": 0.8}}}}}},
            "order": {"field": "hla", "sort": "ascending"}
          }
        },
        {
          "width": 631, "height": 129,
          "title": {"text": "(e)", "dx": -4, "dy": 4},
          "data": {"name": "e"},
          "mark": {"type": "bar", "stroke": "#444", "strokeWidth": 0.7},
          "encoding": {
            "x": {"field": "donor", "type": "nominal", "title": "donors",
              "scale": {"domain": ["D01", "D02", "D03", "D04", "D05", "D06", "D07", "D08", "D09", "D10", "D11", "D12", "D13", "D14", "D15", "D16", "D17", "D18", "D19", "D20", "D21", "D22", "D23", "D24", "D25", "D26", "D27", "D28", "D29", "D30", "D31", "D32", "D33", "D34", "D35", "D36", "D37", "D38", "D39", "D40", "D41", "D42", "D43", "D44", "D45", "D46", "D47", "D48", "D49", "D50"], "paddingInner": 0.36, "paddingOuter": 0.35},
              "axis": {"labelAngle": -45, "labelFontSize": 10, "titleFontSize": 11, "labelOverlap": false}},
            "y": {"field": "n", "type": "quantitative", "stack": "zero", "scale": {"domain": [0, 14]}, "title": "# recognized epitopes",
              "axis": {"values": [0, 2, 4, 6, 8, 10, 12, 14], "tickCount": 50, "format": "d", "labelFontSize": 10, "titleFontSize": 10.5, "labelOverlap": false}},
            "color": {"field": "protein", "type": "nominal",
              "scale": {"domain": ["Spike", "Nucleocapsid", "Membrane", "Envelope", "ORF1ab", "ORF3a", "ORF6"], "range": ["#a30000", "#1b7c8c", "#ff8800", "#007d00", "#7d00a6", "#5c5cf2", "#d8768e"]},
              "legend": {"orient": "none", "legendX": 5, "legendY": -4, "title": null, "direction": "horizontal", "columns": 6, "gridAlign": "each",
                "values": ["Spike", "Nucleocapsid", "Membrane", "Envelope", "ORF1ab", "ORF3a"],
                "labelFontSize": 10.5, "symbolType": "M-1,-0.4L1,-0.4L1,0.4L-1,0.4Z", "symbolSize": 225, "columnPadding": 45, "labelOffset": 8,
                "encode": {"symbols": {"update": {"stroke": {"value": "#333"}, "strokeWidth": {"value": 0.8}}}}}},
            "order": {"field": "k", "sort": "ascending"}
          }
        }
      ],
      "spacing": 55.7, "bounds": "flush",
      "resolve": {"scale": {"fill": "independent", "color": "independent", "stroke": "independent"}}
    }
  ],
  "spacing": 661, "bounds": "flush",
  "resolve": {"scale": {"fill": "independent", "color": "independent", "stroke": "independent"}}
}
